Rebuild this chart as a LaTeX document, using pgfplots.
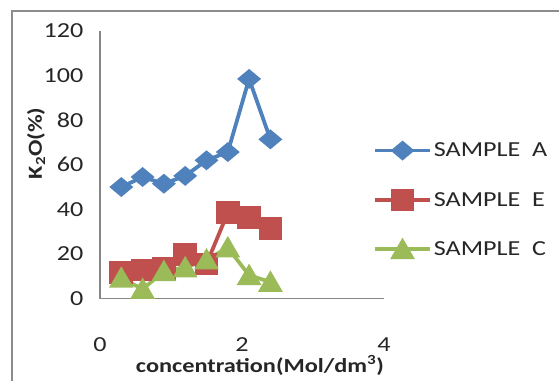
\documentclass[border=0pt]{standalone}
\usepackage{pgfplots}
\pgfplotsset{compat=1.18}
\usepackage{fontspec}
\setmainfont{Carlito}[FakeStretch=1.22]
\definecolor{cA}{HTML}{4F81BD}
\definecolor{cE}{HTML}{C0504D}
\definecolor{cC}{HTML}{9BBB59}
\definecolor{framegray}{HTML}{8C8C8C}
\definecolor{axgray}{HTML}{868686}
\begin{document}
\begin{tikzpicture}[x=1bp,y=1bp]
\useasboundingbox (0,0) rectangle (559,381);
\draw[framegray, line width=2.2bp] (12,0) -- (12,370) -- (559,370);
\begin{axis}[
  at={(100bp,82.5bp)}, anchor=south west,
  scale only axis, width=284bp, height=267.5bp,
  xmin=0, xmax=4, ymin=0, ymax=120,
  xtick={0,2,4}, ytick={0,20,...,120},
  axis lines=left,
  axis line style={-, draw=axgray, line width=1.3bp},
  major tick length=0pt,
  clip=false,
  /pgf/number format/assume math mode=true,
  tick label style={font=\fontsize{21.5}{25}\selectfont, text=black!85},
  xticklabel style={yshift=-36bp},
  yticklabel style={xshift=-13bp},
  xlabel={\bfseries concentration(Mol/dm\textsuperscript{3})},
  ylabel={\bfseries K\textsubscript{2}O(\%)},
  label style={font=\fontsize{20}{24}\selectfont, text=black!85},
  xlabel style={at={(axis description cs:0.563,-0.25)}, anchor=center},
  ylabel style={at={(axis description cs:-0.225,0.58)}, anchor=center},
  legend style={at={(rel axis cs:0.961,0.59)}, anchor=north west, draw=none, fill=none,
    font=\fontsize{21.5}{25}\selectfont, text=black!85, row sep=30bp, inner sep=0pt,
    nodes={inner sep=2bp}},
  legend cell align=left,
  legend image code/.code={\draw[mark repeat=2,mark phase=2] plot coordinates {(0bp,0bp)(27.5bp,0bp)(55bp,0bp)};},
]
\addplot[cA, line width=3.8bp, mark=diamond*, mark size=7.5bp, mark options={xscale=1.6, solid}]
  coordinates {(0.3,50)(0.6,54.5)(0.9,51.5)(1.2,55)(1.5,62)(1.8,65.7)(2.1,98.5)(2.4,71.4)};
\addlegendentry{SAMPLE\ \ A}
\addplot[cE, line width=3.8bp, mark=square*, mark size=9.5bp, mark options={xscale=1.05, solid}]
  coordinates {(0.3,11.7)(0.6,12.8)(0.9,13.3)(1.2,19.6)(1.5,15.5)(1.8,38.5)(2.1,36.2)(2.4,31.3)};
\addlegendentry{SAMPLE\ \ E}
\addplot[cC, line width=3.8bp, mark=triangle*, mark size=10.5bp, mark options={yshift=-2.6bp, solid}]
  coordinates {(0.3,9.2)(0.6,4.2)(0.9,12.2)(1.2,13.9)(1.5,17.4)(1.8,22.8)(2.1,10.4)(2.4,7.4)};
\addlegendentry{SAMPLE\ \ C}
\end{axis}
\end{tikzpicture}
\end{document}
